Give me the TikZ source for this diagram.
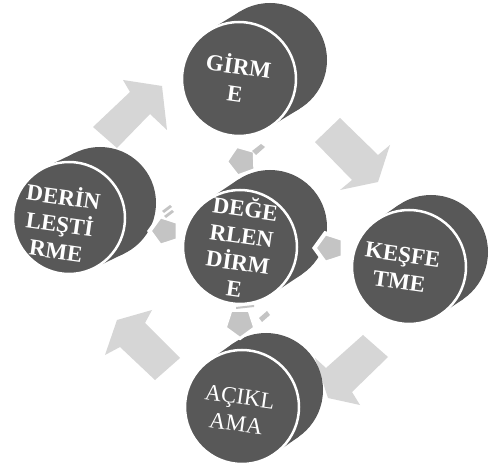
\documentclass[tikz,border=0pt]{standalone}
\usepackage{fontspec}
\setmainfont{Liberation Serif}
\usetikzlibrary{calc,shapes.geometric}
\definecolor{diskgrey}{HTML}{585858}
\definecolor{arrowgrey}{HTML}{D6D6D6}
\definecolor{pentgrey}{HTML}{C4C4C4}
\tikzset{
  arrowshape/.style={fill=arrowgrey},
  lbl/.style={text=white,font=\bfseries\fontsize{23}{27}\selectfont,align=center,rotate=-8,inner sep=0pt},
  lblreg/.style={text=white,font=\fontsize{23}{27}\selectfont,align=center,rotate=-8,inner sep=0pt},
  pent/.style={regular polygon,regular polygon sides=5,fill=pentgrey,draw=white,line width=3pt,minimum size=31pt,inner sep=0pt},
  strip/.style={fill=pentgrey}
}
\newcommand\mycyl[5]{%
  \coordinate (F) at (#1,#2);
  \coordinate (B) at (#3,#4);
  \fill[diskgrey] (B) circle (#5pt);
  \fill[diskgrey] ($(F)!#5pt!90:(B)$) -- ($(B)!#5pt!-90:(F)$) -- ($(B)!#5pt!90:(F)$) -- ($(F)!#5pt!-90:(B)$) -- cycle;
  \filldraw[fill=diskgrey,draw=white,line width=2.5pt] (F) circle (#5pt);
}
\begin{document}
\begin{tikzpicture}[x=1pt,y=-1pt]
\useasboundingbox (0,0) rectangle (490,470);
\fill[white] (0,0) rectangle (490,470);
% big arrows
\fill[arrowshape] (93,127) -- (130,92) -- (123,80) -- (162,86) -- (167,130) -- (150,114) -- (117,148) -- cycle;
\fill[arrowshape] (315,142) -- (340,118) -- (378,155) -- (390,145) -- (378,182) -- (340,190) -- (352,180) -- cycle;
\fill[arrowshape] (363,335) -- (388,357) -- (352,392) -- (360,405) -- (328,398) -- (315,358) -- (326,368) -- cycle;
\fill[arrowshape] (180,358) -- (145,323) -- (152,310) -- (117,320) -- (105,355) -- (120,347) -- (155,380) -- cycle;
% disks
\mycyl{239}{79}{270}{60}{57}
\mycyl{69}{218}{100}{203}{56}
\mycyl{409}{267}{431}{252}{57}
\mycyl{242}{407}{266}{390}{57}
\mycyl{240}{247}{270}{227}{57}
% small pentagons
\node[pent,rotate=20] (ptop) at (242,161) {};
\node[pent,rotate=90,line width=4pt] (pleft) at (165,231) {};
\node[pent,rotate=90,line width=4pt] (pright) at (330,248) {};
\node[pent,rotate=180] (pbot) at (240,323) {};
\fill[strip] (252,151) -- (261,144) -- (265,147) -- (256,155) -- cycle;
\fill[strip] (162,211) -- (170,205) -- (172,207) -- (164,213) -- cycle;
\fill[strip] (164,216) -- (172,210) -- (174,212) -- (166,218) -- cycle;
\fill[strip] (259,318) -- (267,311) -- (270,315) -- (262,322) -- cycle;
\fill[strip] (236,307) -- (254,305) -- (254,307) -- (236,309) -- cycle;
% labels
\node[lbl] (girme) at (237,78) {GİRM\\E};
\node[lbl] (derin) at (60,222) {DERİN\\LEŞTİ\\RME};
\node[lbl] (kesfe) at (401,268) {KEŞFE\\TME};
\node[lblreg] (aciklama) at (238,410) {AÇIKL\\AMA};
\node[lbl] (deger) at (240,247) {DEĞE\\RLEN\\DİRM\\E};
\end{tikzpicture}
\end{document}
